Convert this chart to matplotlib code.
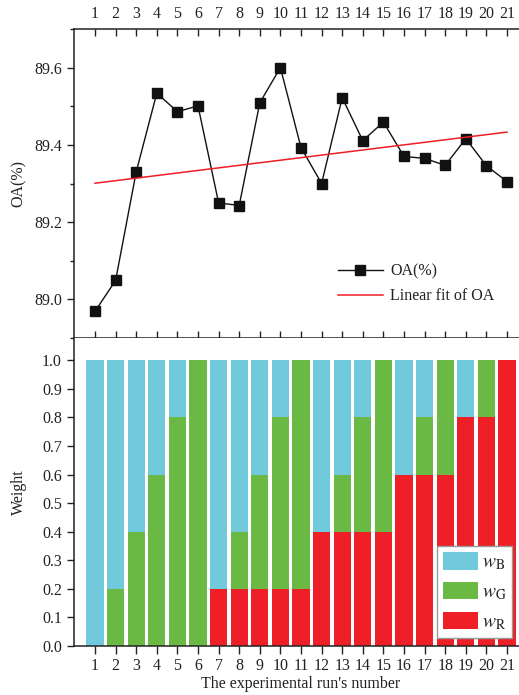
import numpy as np
import matplotlib
matplotlib.use("Agg")
import matplotlib.pyplot as plt
from matplotlib.ticker import MultipleLocator

runs = list(range(1, 22))
oa = [88.969, 89.049, 89.330, 89.534, 89.486, 89.501, 89.250, 89.243, 89.509, 89.600,
      89.393, 89.300, 89.522, 89.411, 89.459, 89.370, 89.365, 89.347, 89.416, 89.346, 89.305]
w_r = [0, 0, 0, 0, 0, 0, 0.2, 0.2, 0.2, 0.2, 0.2, 0.4, 0.4, 0.4, 0.4, 0.6, 0.6, 0.6, 0.8, 0.8, 1.0]
w_g = [0, 0.2, 0.4, 0.6, 0.8, 1.0, 0, 0.2, 0.4, 0.6, 0.8, 0, 0.2, 0.4, 0.6, 0, 0.2, 0.4, 0, 0.2, 0]
w_b = [1.0, 0.8, 0.6, 0.4, 0.2, 0, 0.8, 0.6, 0.4, 0.2, 0, 0.6, 0.4, 0.2, 0, 0.4, 0.2, 0, 0.2, 0, 0]
labels_w = [r'$w_{\rm B}$', r'$w_{\rm G}$', r'$w_{\rm R}$']

plt.rcParams['font.family'] = ['Liberation Serif', 'DejaVu Serif']
plt.rcParams['mathtext.fontset'] = 'stix'
plt.rcParams['font.size'] = 11.5
txt = '#222222'

fig = plt.figure(figsize=(5.19, 6.95), dpi=100)
W, H = 519, 695
left = 74.4 / W
width = (527.6 - 74.4) / W
ax1 = fig.add_axes([left, (H - 338) / H, width, 309 / H])
ax2 = fig.add_axes([left, (H - 646) / H, width, 308 / H])

x = np.array(runs)
# top plot
ax1.plot(x, oa, color='#111111', lw=1.0, marker='s', ms=6.8, label='OA(%)')
coef = np.polyfit(x, oa, 1)
ax1.plot(x, np.polyval(coef, x), color='#ee1c24', lw=1.1, label='Linear fit of OA')
ax1.set_xlim(0, 22)
ax1.set_ylim(88.9, 89.7)
ax1.yaxis.set_major_locator(MultipleLocator(0.2))
ax1.yaxis.set_minor_locator(MultipleLocator(0.1))
ax1.set_xticks(runs)
ax1.tick_params(axis='x', which='both', top=True, labeltop=True, bottom=True, labelbottom=False,
                direction='in', length=5, width=1, colors=txt, pad=5)
ax1.tick_params(axis='x', which='both', bottom=True, direction='inout', length=4)
ax1.tick_params(axis='x', top=True, direction='in', length=5)
ax1.tick_params(axis='y', which='major', direction='out', length=5, width=1, colors=txt, pad=4)
ax1.tick_params(axis='y', which='minor', direction='out', length=3, width=1, colors=txt)
ax1.spines['right'].set_visible(False)
for s in ['left', 'top', 'bottom']:
    ax1.spines[s].set_linewidth(1.1)
    ax1.spines[s].set_color('#222222')
ax1.set_ylabel('OA(%)', color=txt)
ax1.yaxis.set_label_coords(-0.105, 0.5)
leg1 = ax1.legend(loc='lower right', bbox_to_anchor=(0.958, 0.062), frameon=False,
                  handlelength=2.8, fontsize=11.5, labelspacing=0.55, handletextpad=0.45)
for t in leg1.get_texts():
    t.set_color(txt)

# bottom plot
c_b, c_g, c_r = '#71cadb', '#6ab945', '#ee1f26'
bw = 0.84
bot_g = np.array(w_r)
bot_b = np.array(w_r) + np.array(w_g)
hr = ax2.bar(x, w_r, width=bw, color=c_r, label=labels_w[2])
hg = ax2.bar(x, w_g, width=bw, bottom=bot_g, color=c_g, label=labels_w[1])
hb = ax2.bar(x, w_b, width=bw, bottom=bot_b, color=c_b, label=labels_w[0])
ax2.set_xlim(0, 22)
ax2.set_ylim(0, 1.078)
ax2.yaxis.set_major_locator(MultipleLocator(0.1))
ax2.yaxis.set_major_formatter(matplotlib.ticker.FormatStrFormatter('%.1f'))
ax2.set_xticks(runs)
ax2.tick_params(axis='x', direction='out', length=6, width=1, colors=txt, pad=3)
ax2.tick_params(axis='y', direction='out', length=5, width=1, colors=txt, pad=4)
ax2.spines['right'].set_visible(False)
ax2.spines['top'].set_visible(False)
for s in ['left', 'bottom']:
    ax2.spines[s].set_linewidth(1.1)
    ax2.spines[s].set_color('#222222')
ax2.set_ylabel('Weight', color=txt)
ax2.yaxis.set_label_coords(-0.105, 0.5)
ax2.set_xlabel("The experimental run's number", color=txt, labelpad=1)
leg2 = ax2.legend([hb, hg, hr], labels_w, loc='lower right', bbox_to_anchor=(0.9665, 0.027),
                  frameon=True, fancybox=False, edgecolor='#999999', framealpha=1,
                  handlelength=1.8, handleheight=1.0, labelspacing=0.5, fontsize=14,
                  borderpad=0.3, handletextpad=0.2, borderaxespad=0)
leg2.get_frame().set_linewidth(1.0)
for t in leg2.get_texts():
    t.set_color(txt)

fig.savefig('out.png', dpi=100)
